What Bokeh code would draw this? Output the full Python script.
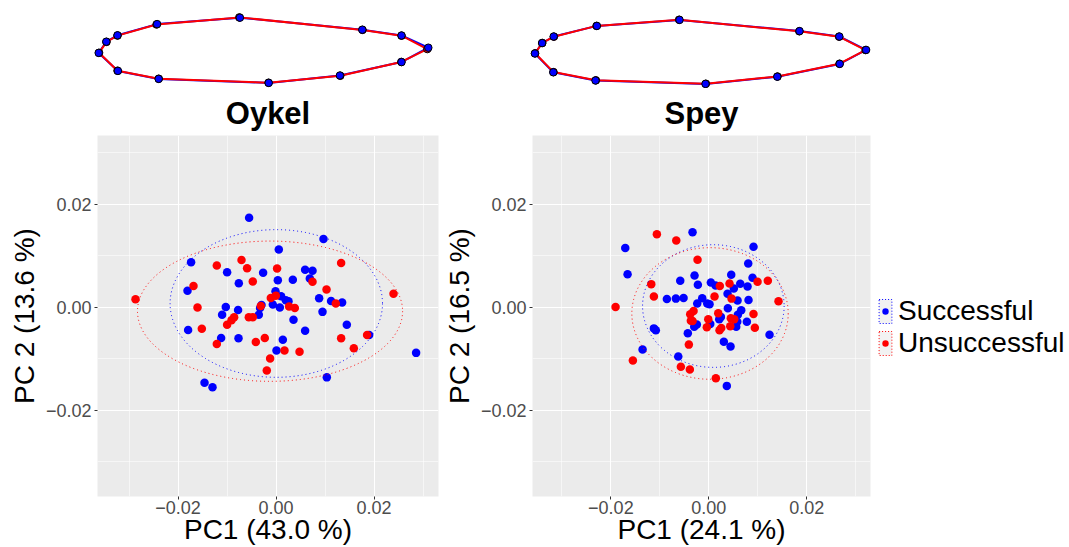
from bokeh.plotting import figure
from bokeh.layouts import row, column
from bokeh.models import (FixedTicker, CustomJSTickFormatter, Legend, LegendItem,
                          Range1d)
from bokeh.embed import file_html
from bokeh.resources import INLINE

FONT = "Liberation Sans"
BLUE = "#0000FF"
RED = "#FF0000"

groups = ["Successful", "Unsuccessful"]
panel_titles = ["Oykel", "Spey"]
x_labels = ["PC1 (43.0 %)", "PC1 (24.1 %)"]
y_labels = ["PC 2 (13.6 %)", "PC 2 (16.5 %)"]
tick_values = [-0.02, 0.0, 0.02]
minor_tick_values = [-0.03, -0.01, 0.01, 0.03]

# ---------------- Oykel scores ----------------
oykel_succ_pc1 = [-0.00551, 0.00967, 0.00055, -0.01735, -0.01000, -0.00265, -0.00761, 0.00035,
                  0.00341, 0.00592, 0.00743, 0.00688, -0.01808, -0.00012, 0.00102, 0.00198,
                  0.00253, 0.00878, 0.01122, 0.01347, -0.00298, -0.00327, -0.00067, 0.00076,
                  -0.01027, -0.00776, -0.01102, -0.00353, 0.00947, 0.00355, 0.01443, -0.01796,
                  0.00592, -0.01122, -0.00767, 0.00137, 0.01898, 0.00008, 0.02857, 0.01035,
                  -0.01461, -0.01298]
oykel_succ_pc2 = [0.01737, 0.01321, 0.01121, 0.00871, 0.00679, 0.00667, 0.00467, 0.00525,
                  0.00533, 0.00725, 0.00706, 0.00558, 0.00321, 0.00308, 0.00212, 0.00135,
                  0.00115, 0.00173, 0.00121, 0.00090, 0.00044, -0.00013, 0.00052, -0.00006,
                  0.00006, -0.00052, -0.00148, -0.00148, -0.00090, -0.00244, -0.00340, -0.00442,
                  -0.00456, -0.00596, -0.00602, -0.00629, -0.00538, -0.00840, -0.00885, -0.01360,
                  -0.01462, -0.01552]
oykel_uns_pc1 = [-0.02869, -0.01210, -0.00706, -0.00592, 0.00020, -0.00476, -0.01686, 0.01327,
                 0.00743, 0.01029, 0.02396, 0.01218, -0.00108, -0.00006, -0.00312, 0.00265,
                 0.00382, -0.01604, -0.00557, -0.00476, -0.00857, -0.00910, -0.01000, -0.01516,
                 -0.01210, -0.00414, -0.00231, 0.00171, 0.00478, -0.00122, -0.00190, 0.01327,
                 0.01586, 0.01857]
oykel_uns_pc2 = [0.00154, 0.00808, 0.00917, 0.00756, 0.00750, 0.00500, 0.00410, 0.00860,
                 0.00494, 0.00346, 0.00263, 0.00071, 0.00179, 0.00225, 0.00025, 0.00013,
                 -0.00013, -0.00006, -0.00192, -0.00192, -0.00192, -0.00250, -0.00340, -0.00417,
                 -0.00712, -0.00673, -0.00596, -0.00840, -0.00865, -0.00994, -0.01225, -0.00602,
                 -0.00794, -0.00538]
# 95 % ellipses: centre, full width, full height (Successful, Unsuccessful)
oykel_ell_x = [0.00004, -0.00124]
oykel_ell_y = [0.00073, -0.00077]
oykel_ell_w = [0.04335, 0.05410]
oykel_ell_h = [0.02865, 0.02720]

# ---------------- Spey scores ----------------
spey_succ_pc1 = [-0.00333, -0.01706, 0.00912, -0.01659, 0.00804, -0.00292, 0.00457, 0.00892,
                 -0.00584, -0.00224, 0.00041, 0.00137, 0.00641, 0.00510, 0.00790, 0.00382,
                 -0.00857, -0.00673, -0.00516, -0.00135, -0.00237, -0.00033, 0.00014, 0.00586,
                 0.00810, 0.00388, 0.00661, 0.00592, 0.00245, 0.00212, 0.00580, 0.00776,
                 -0.00245, -0.00298, 0.00029, 0.00559, -0.01122, -0.01082, -0.00429, 0.01239,
                 0.00306, 0.00443, -0.01353, -0.00624, 0.00367]
spey_succ_pc2 = [0.01456, 0.01148, 0.01173, 0.00640, 0.00846, 0.00615, 0.00629, 0.00571,
                 0.00513, 0.00437, 0.00481, 0.00423, 0.00456, 0.00365, 0.00404, 0.00263,
                 0.00160, 0.00167, 0.00179, 0.00173, 0.00071, 0.00071, 0.00058, 0.00129,
                 0.00140, -0.00019, -0.00058, -0.00148, -0.00187, -0.00231, -0.00283, -0.00283,
                 -0.00333, -0.00379, -0.00327, -0.00379, -0.00410, -0.00448, -0.00506, -0.00533,
                 -0.00667, -0.00763, -0.00821, -0.00956, -0.01525]
spey_uns_pc1 = [-0.01061, -0.00665, -0.00231, -0.01176, 0.00224, 0.00422, 0.00994, 0.01204,
                -0.01122, 0.00116, 0.00463, 0.01422, -0.01904, -0.00312, -0.00380, 0.00192,
                0.00912, -0.00367, -0.00333, -0.00012, 0.00449, 0.00518, 0.00939, -0.00041,
                0.00253, 0.00218, 0.00437, -0.00408, -0.01551, -0.00571, -0.00388, 0.00143]
spey_uns_pc2 = [0.01417, 0.01294, 0.00923, 0.00448, 0.00410, 0.00462, 0.00494, 0.00513,
                0.00206, 0.00206, 0.00167, 0.00115, 0.00006, -0.00071, -0.00135, -0.00115,
                -0.00129, -0.00263, -0.00269, -0.00231, -0.00212, -0.00231, -0.00398, -0.00390,
                -0.00404, -0.00448, -0.00371, -0.00725, -0.01033, -0.01154, -0.01206, -0.01379]
spey_ell_x = [0.00092, 0.00024]
spey_ell_y = [0.00023, -0.00121]
spey_ell_w = [0.02890, 0.03192]
spey_ell_h = [0.02379, 0.02552]

# ---------------- mean outline shapes (13 landmarks) ----------------
oykel_shape_succ_x = [-0.059, 0.247, 0.345, 0.412, 0.345, 0.191, 0.013, -0.262, -0.364, -0.412, -0.393, -0.365, -0.266]
oykel_shape_succ_y = [0.082, 0.052, 0.0375, 0.007, -0.029, -0.0625, -0.081, -0.071, -0.051, -0.006, 0.022, 0.038, 0.066]
oykel_shape_uns_x = [-0.0605, 0.2475, 0.345, 0.4095, 0.3445, 0.192, 0.0125, -0.262, -0.365, -0.411, -0.3925, -0.365, -0.2675]
oykel_shape_uns_y = [0.0828, 0.0515, 0.037, 0.0035, -0.0285, -0.0632, -0.0805, -0.0705, -0.0505, -0.0058, 0.0215, 0.0372, 0.065]
spey_shape_succ_x = [-0.0525, 0.2475, 0.347, 0.414, 0.348, 0.192, 0.0125, -0.2625, -0.368, -0.414, -0.396, -0.367, -0.259]
spey_shape_succ_y = [0.079, 0.051, 0.0375, 0.004, -0.031, -0.063, -0.081, -0.0725, -0.052, -0.005, 0.021, 0.0375, 0.064]
spey_shape_uns_x = [-0.0535, 0.2470, 0.3465, 0.4125, 0.3475, 0.1925, 0.0135, -0.2615, -0.3675, -0.4135, -0.3955, -0.3665, -0.2600]
spey_shape_uns_y = [0.0795, 0.0505, 0.0370, 0.0035, -0.0305, -0.0625, -0.0805, -0.0720, -0.0515, -0.0045, 0.0215, 0.0370, 0.0640]

tick_fmt = CustomJSTickFormatter(code="""
    return (tick < -1e-12 ? "\\u2212" : "") + Math.abs(tick).toFixed(2);
""")


def inset(sx_s, sy_s, sx_u, sy_u, w, xr, yr):
    p = figure(width=w, height=88, output_backend="svg", toolbar_location=None,
               x_range=Range1d(*xr), y_range=Range1d(*yr),
               x_axis_location=None, y_axis_location=None,
               min_border_left=0, min_border_right=0, min_border_top=0, min_border_bottom=0)
    p.grid.visible = False
    p.outline_line_color = None
    p.background_fill_color = "white"
    p.line(sx_s + sx_s[:1], sy_s + sy_s[:1], line_color=BLUE, line_width=2)
    p.line(sx_u + sx_u[:1], sy_u + sy_u[:1], line_color=RED, line_width=2)
    p.scatter(sx_u, sy_u, size=7.5, fill_color=RED, line_color="black", line_width=1)
    p.scatter(sx_s, sy_s, size=7.5, fill_color=BLUE, line_color="black", line_width=1)
    return p


def panel(title, xlab, ylab, xs, ys, xu, yu, ex, ey, ew, eh, xr, w, left):
    p = figure(width=w, height=459, output_backend="svg", toolbar_location=None,
               x_range=Range1d(*xr), y_range=Range1d(-0.0367, 0.0333),
               min_border_left=left, min_border_right=2, min_border_top=45,
               min_border_bottom=51)
    p.background_fill_color = "#EBEBEB"
    p.border_fill_color = "white"
    p.outline_line_color = None
    p.title.text = title
    p.title.align = "center"
    p.title.text_font = FONT
    p.title.text_font_size = "31px"
    p.title.text_font_style = "bold"
    p.title.text_color = "black"
    p.title.standoff = 10
    for ax in (p.xaxis[0], p.yaxis[0]):
        ax.ticker = FixedTicker(ticks=tick_values, minor_ticks=minor_tick_values)
        ax.formatter = tick_fmt
        ax.axis_line_color = None
        ax.major_tick_line_color = "#333333"
        ax.major_tick_out = 3
        ax.major_tick_in = 0
        ax.minor_tick_out = 0
        ax.minor_tick_in = 0
        ax.major_label_text_font = FONT
        ax.major_label_text_font_size = "18px"
        ax.major_label_text_color = "#4D4D4D"
        ax.axis_label_text_font = FONT
        ax.axis_label_text_font_size = "28px"
        ax.axis_label_text_font_style = "normal"
        ax.axis_label_text_color = "black"
    p.xaxis.axis_label = xlab
    p.yaxis.axis_label = ylab
    p.xaxis.major_label_standoff = 1
    p.xaxis.axis_label_standoff = -3
    p.yaxis.major_label_standoff = 3
    p.yaxis.axis_label_standoff = 3
    p.grid.grid_line_color = "white"
    p.grid.grid_line_width = 1.1
    p.grid.minor_grid_line_color = "white"
    p.grid.minor_grid_line_width = 0.55

    p.scatter(xs, ys, size=8.5, fill_color=BLUE, line_color=None)
    p.scatter(xu, yu, size=8.5, fill_color=RED, line_color=None)
    for i, c in enumerate([BLUE, RED]):
        p.ellipse(x=[ex[i]], y=[ey[i]], width=[ew[i]], height=[eh[i]],
                  fill_color=None, line_color=c, line_width=1, line_dash="1 3")
    return p


ins1 = inset(oykel_shape_succ_x, oykel_shape_succ_y, oykel_shape_uns_x, oykel_shape_uns_y,
             440, (-0.6575, 0.4425), (-0.095, 0.125))
ins2 = inset(spey_shape_succ_x, spey_shape_succ_y, spey_shape_uns_x, spey_shape_uns_y,
             432, (-0.65, 0.43), (-0.0925, 0.1275))
p1 = panel(panel_titles[0], x_labels[0], y_labels[0], oykel_succ_pc1, oykel_succ_pc2,
           oykel_uns_pc1, oykel_uns_pc2, oykel_ell_x, oykel_ell_y, oykel_ell_w, oykel_ell_h,
           (-0.03645, 0.03314), 440, 97)
p2 = panel(panel_titles[1], x_labels[1], y_labels[1], spey_succ_pc1, spey_succ_pc2,
           spey_uns_pc1, spey_uns_pc2, spey_ell_x, spey_ell_y, spey_ell_w, spey_ell_h,
           (-0.0360, 0.0330), 432, 89)

# legend panel (its dummy glyphs sit outside the visible range)
lg = figure(width=197, height=459, output_backend="svg", toolbar_location=None,
            x_range=Range1d(0, 1), y_range=Range1d(0, 1),
            x_axis_location=None, y_axis_location=None,
            min_border_left=0, min_border_right=0, min_border_top=0, min_border_bottom=0)
lg.grid.visible = False
lg.outline_line_color = None
items = []
for g, c in zip(groups, [BLUE, RED]):
    rr = lg.rect(x=[5], y=[5], width=[0.1], height=[0.1], fill_color="#F2F2F2",
                 line_color=c, line_width=1, line_dash="1 2")
    rp = lg.scatter(x=[5], y=[5], size=6, fill_color=c, line_color=None)
    items.append(LegendItem(label=g, renderers=[rr, rp]))
legend = Legend(items=items, location=(5, 137), orientation="vertical",
                glyph_width=16, glyph_height=30, label_standoff=5, spacing=0,
                padding=0, margin=0, border_line_color=None, background_fill_alpha=0,
                label_text_font=FONT, label_text_font_size="28px", label_text_color="black")
lg.add_layout(legend)

layout = column(row(ins1, ins2), row(p1, p2, lg))
open("out.html", "w").write(file_html(layout, INLINE))
